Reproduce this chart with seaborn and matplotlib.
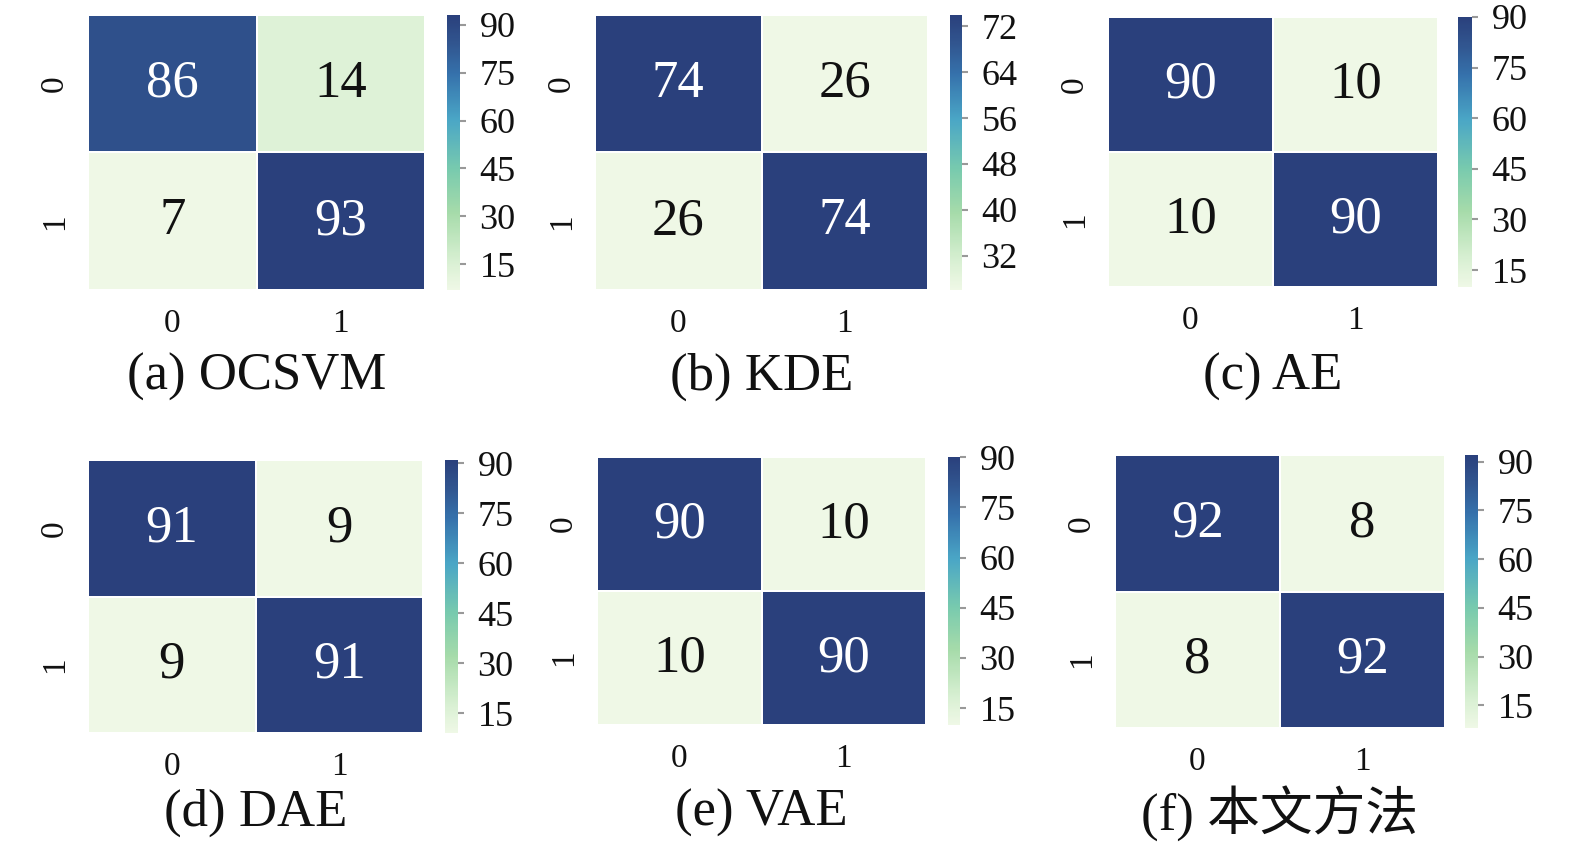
import numpy as np
import seaborn as sns
import matplotlib.pyplot as plt
from matplotlib.colors import LinearSegmentedColormap

sns.set_theme(style="white")
plt.rcParams['font.family'] = ['Liberation Serif', 'Noto Sans CJK SC']

# confusion matrices (percent), one per method
ocsvm = [[86, 14], [7, 93]]
kde = [[74, 26], [26, 74]]
ae = [[90, 10], [10, 90]]
dae = [[91, 9], [9, 91]]
vae = [[90, 10], [10, 90]]
ours = [[92, 8], [8, 92]]

titles = ["(a) OCSVM", "(b) KDE", "(c) AE", "(d) DAE", "(e) VAE", "(f) 本文方法"]
cbar_ticks = [
    [15, 30, 45, 60, 75, 90],
    [32, 40, 48, 56, 64, 72],
    [15, 30, 45, 60, 75, 90],
    [15, 30, 45, 60, 75, 90],
    [15, 30, 45, 60, 75, 90],
    [15, 30, 45, 60, 75, 90],
]
matrices = [ocsvm, kde, ae, dae, vae, ours]

# colour ramp sampled from the original colourbars
cmap = LinearSegmentedColormap.from_list("gnbu_soft", [
    (0.00, "#eff8e6"),
    (0.10, "#d9f0d3"),
    (0.28, "#a6dbaa"),
    (0.44, "#78caae"),
    (0.62, "#4aa6c6"),
    (0.79, "#3570ab"),
    (0.90, "#31558f"),
    (1.00, "#2a407c"),
])

W, H = 1575, 849
fig = plt.figure(figsize=(W / 100, H / 100), dpi=100)


def px_box(left, right, top, bottom):
    return [left / W, 1 - bottom / H, (right - left) / W, (bottom - top) / H]


# heatmap box and colorbar box in pixels: (left, right, top, bottom)
heat_boxes = [
    (88, 425, 15, 290), (595, 928, 15, 290), (1108, 1438, 17, 287),
    (88, 423, 460, 733), (597, 926, 457, 725), (1115, 1445, 455, 728),
]
cbar_boxes = [
    (447, 460, 15, 290), (950, 962, 15, 290), (1458, 1472, 17, 287),
    (445, 458, 460, 733), (948, 960, 457, 725), (1465, 1478, 455, 728),
]
title_y = [377, 377, 377, 813, 813, 813]

for i, m in enumerate(matrices):
    ax = fig.add_axes(px_box(*heat_boxes[i]))
    cax = fig.add_axes(px_box(*cbar_boxes[i]))
    sns.heatmap(np.array(m), ax=ax, cbar_ax=cax, cmap=cmap, annot=True, fmt="d",
                linewidths=1.2, linecolor="white",
                annot_kws={"fontsize": 38, "family": "Liberation Serif"})
    # dark text on light cells should be plain black like the original
    for t in ax.texts:
        if t.get_color() != "w":
            t.set_color("#111111")
    ax.tick_params(axis="both", length=3, width=1.5, color="#999999",
                   labelsize=24, pad=10, labelcolor="#111111")
    ax.set_yticklabels(["0", "1"], rotation=90, va="center")
    cax.set_yticks(cbar_ticks[i])
    cax.tick_params(length=4, width=1.5, color="#999999", labelsize=26, pad=10,
                    labelcolor="#111111")
    for s in cax.spines.values():
        s.set_visible(False)
    l, r = heat_boxes[i][0], heat_boxes[i][1]
    fig.text((l + r) / 2 / W, 1 - title_y[i] / H, titles[i], ha="center",
             va="center", fontsize=38, color="#111111",
             family=['Liberation Serif', 'Noto Sans CJK SC'])

fig.savefig("out.png", dpi=100)
